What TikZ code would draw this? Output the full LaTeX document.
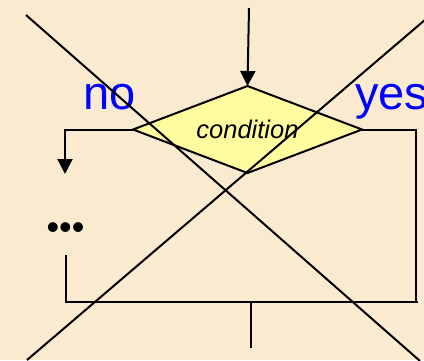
\documentclass[tikz,border=0pt]{standalone}
\usepackage{fontspec}
\setmainfont{Liberation Sans}
\usetikzlibrary{shapes.geometric,arrows.meta}
\definecolor{bgc}{RGB}{250,235,208}
\definecolor{dfill}{RGB}{255,252,160}
\definecolor{lblue}{RGB}{0,0,255}
\tikzset{
  ln/.style={line width=2pt, black},
  arr/.style={ln, -{Triangle[length=15pt,width=15pt]}},
  lbl/.style={text=lblue, inner sep=0pt, anchor=base west, font=\fontsize{47}{47}\selectfont},
  cross/.style={line width=2pt, black},
}
\begin{document}
\begin{tikzpicture}[x=1pt,y=-1pt]
\fill[bgc] (0,0) rectangle (424,360);
\useasboundingbox (0,0) rectangle (424,360);
\begin{scope}
\clip (0,0) rectangle (424,360);
\node[diamond, draw, ln, fill=dfill, aspect=2.63, minimum width=229pt, minimum height=87pt, inner sep=0pt, outer sep=0pt,
      font=\itshape\fontsize{25.5}{25.5}\selectfont] (cond) at (247.5,129.5) {condition};
\node[lbl] (no) at (83,109) {no};
\node[lbl] (yes) at (355,109) {yes};
\node[inner sep=0pt, font=\fontsize{36}{36}\selectfont] (dots) at (65.5,231) {•••};
\coordinate (top) at (249,8);
\coordinate (noend) at (65,174);
\coordinate (lstart) at (66,255);
\coordinate (bjoinR) at (418,302);
\coordinate (rdown) at (416,302);
\coordinate (stemtop) at (251,302);
\coordinate (stembot) at (251,348);
\draw[arr] (top) -- (cond.north);
\draw[arr] (cond.west) -| (noend);
\draw[ln] (lstart) |- (bjoinR);
\draw[ln] (cond.east) -| (rdown);
\draw[ln] (stemtop) -- (stembot);
\coordinate (c1a) at (26,15);
\coordinate (c1b) at (420,361);
\coordinate (c2a) at (426,19);
\coordinate (c2b) at (27,360);
\draw[cross] (c1a) -- (c1b);
\draw[cross] (c2a) -- (c2b);
\end{scope}
\end{tikzpicture}
\end{document}
